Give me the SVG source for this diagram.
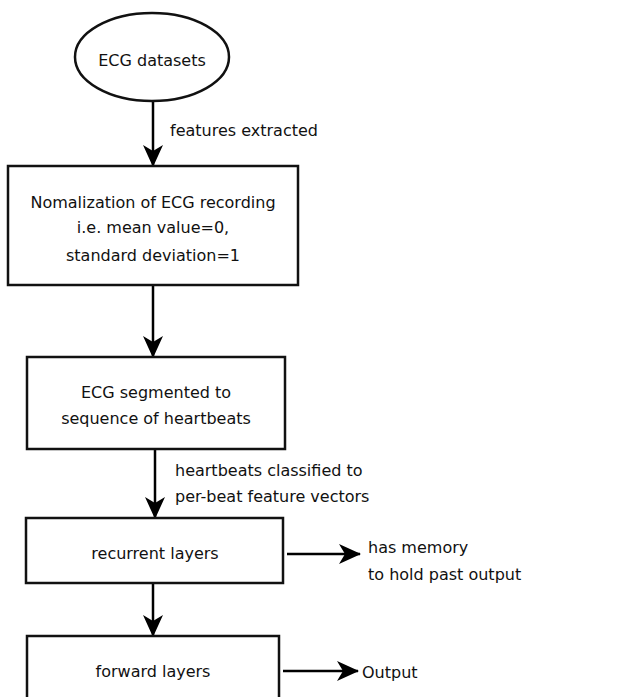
<svg xmlns="http://www.w3.org/2000/svg" width="622" height="697" viewBox="0 0 622 697">
<defs>
<marker id="arr" viewBox="0 0 22 20" refX="21" refY="10" markerWidth="22" markerHeight="20" markerUnits="userSpaceOnUse" orient="auto">
<path d="M0,0 L22,10 L0,20 L6,10 Z" fill="#000"/>
</marker>
<style>
.n{fill:#fff;stroke:#111;stroke-width:2.5}
.t{font-family:"DejaVu Sans","Liberation Sans",sans-serif;font-size:16px;fill:#111;text-anchor:middle}
.l{font-family:"DejaVu Sans","Liberation Sans",sans-serif;font-size:16px;fill:#111}
.c{stroke:#000;stroke-width:2.5;fill:none;marker-end:url(#arr)}
</style>
</defs>
<rect width="622" height="697" fill="#fff"/>
<g id="connectors">
<line class="c" x1="153" y1="102" x2="153" y2="166"/>
<line class="c" x1="153" y1="285" x2="153" y2="357"/>
<line class="c" x1="155" y1="449" x2="155" y2="518"/>
<line class="c" x1="153" y1="583" x2="153" y2="636"/>
<line class="c" x1="287" y1="554" x2="360" y2="554"/>
<line class="c" x1="283" y1="671" x2="358" y2="671"/>
<text class="l" x="170" y="136">features extracted</text>
<text class="l" x="175" y="476">heartbeats classified to</text>
<text class="l" x="175" y="502">per-beat feature vectors</text>
</g>
<g id="ecg-datasets">
<ellipse class="n" cx="152" cy="57" rx="77" ry="44"/>
<text class="t" x="152" y="66">ECG datasets</text>
</g>
<g id="normalization">
<rect class="n" x="8" y="166" width="290" height="119"/>
<text class="t" x="153" y="208">Nomalization of ECG recording</text>
<text class="t" x="153" y="233">i.e. mean value=0,</text>
<text class="t" x="153" y="261">standard deviation=1</text>
</g>
<g id="segmentation">
<rect class="n" x="27" y="357" width="258" height="92"/>
<text class="t" x="156" y="398">ECG segmented to</text>
<text class="t" x="156" y="424">sequence of heartbeats</text>
</g>
<g id="recurrent">
<rect class="n" x="26" y="518" width="257" height="65"/>
<text class="t" x="155" y="559">recurrent layers</text>
</g>
<g id="memory">
<text class="l" x="368" y="553">has memory</text>
<text class="l" x="368" y="580">to hold past output</text>
</g>
<g id="forward">
<rect class="n" x="27" y="636" width="252" height="80"/>
<text class="t" x="153" y="677">forward layers</text>
</g>
<g id="output">
<text class="l" x="362" y="678">Output</text>
</g>
</svg>
